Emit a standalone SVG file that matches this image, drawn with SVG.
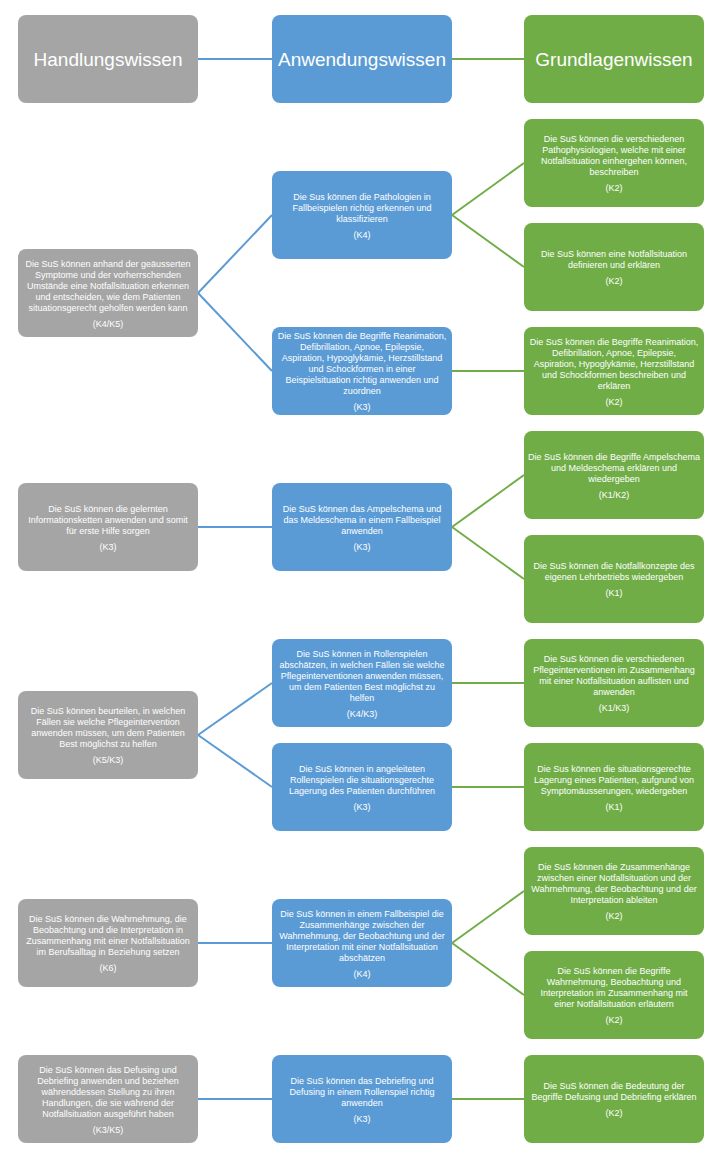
<svg xmlns="http://www.w3.org/2000/svg" width="719" height="1167" viewBox="0 0 719 1167">
<style>
.g{fill:#A5A5A5}
.b{fill:#5B9BD5}
.gr{fill:#70AD47}
rect{rx:8px;ry:8px}
text{font-family:"Liberation Sans",Arial,sans-serif;fill:#fff;text-anchor:middle}
.h{font-size:19px}
.t{font-size:9px}
.cb{stroke:#5B9BD5;stroke-width:2;fill:none}
.cg{stroke:#70AD47;stroke-width:2;fill:none}
</style>
<rect x="0" y="0" width="719" height="1167" fill="#fff" rx="0" ry="0" style="rx:0;ry:0"/>
<g id="connectors">
<line class="cb" x1="198" y1="59" x2="272" y2="59"/>
<line class="cg" x1="452" y1="59" x2="524" y2="59"/>
<line class="cb" x1="198" y1="293" x2="272" y2="215"/>
<line class="cb" x1="198" y1="293" x2="272" y2="371"/>
<line class="cg" x1="452" y1="215" x2="524" y2="163"/>
<line class="cg" x1="452" y1="215" x2="524" y2="267"/>
<line class="cg" x1="452" y1="371" x2="524" y2="371"/>
<line class="cb" x1="198" y1="527" x2="272" y2="527"/>
<line class="cg" x1="452" y1="527" x2="524" y2="475"/>
<line class="cg" x1="452" y1="527" x2="524" y2="579"/>
<line class="cb" x1="198" y1="735" x2="272" y2="683"/>
<line class="cb" x1="198" y1="735" x2="272" y2="787"/>
<line class="cg" x1="452" y1="683" x2="524" y2="683"/>
<line class="cg" x1="452" y1="787" x2="524" y2="787"/>
<line class="cb" x1="198" y1="943" x2="272" y2="943"/>
<line class="cg" x1="452" y1="943" x2="524" y2="891"/>
<line class="cg" x1="452" y1="943" x2="524" y2="995"/>
<line class="cb" x1="198" y1="1099" x2="272" y2="1099"/>
<line class="cg" x1="452" y1="1099" x2="524" y2="1099"/>
</g>
<g id="h-handlung"><rect class="g" x="18" y="15" width="180" height="88"/><text class="h" x="108" y="65.5">Handlungswissen</text></g>
<g id="h-anwendung"><rect class="b" x="272" y="15" width="180" height="88"/><text class="h" x="362" y="65.5">Anwendungswissen</text></g>
<g id="h-grundlagen"><rect class="gr" x="524" y="15" width="180" height="88"/><text class="h" x="614" y="65.5">Grundlagenwissen</text></g>

<g id="gray1"><rect class="g" x="18" y="249" width="180" height="88"/>
<text class="t" x="108" y="266.5">Die SuS können anhand der geäusserten</text>
<text class="t" x="108" y="277.5">Symptome und der vorherrschenden</text>
<text class="t" x="108" y="288.5">Umstände eine Notfallsituation erkennen</text>
<text class="t" x="108" y="299.5">und entscheiden, wie dem Patienten</text>
<text class="t" x="108" y="310.5">situationsgerecht geholfen werden kann</text>
<text class="t" x="108" y="326.5">(K4/K5)</text></g>

<g id="blue1"><rect class="b" x="272" y="171" width="180" height="88"/>
<text class="t" x="362" y="199.5">Die Sus können die Pathologien in</text>
<text class="t" x="362" y="210.5">Fallbeispielen richtig erkennen und</text>
<text class="t" x="362" y="221.5">klassifizieren</text>
<text class="t" x="362" y="237.5">(K4)</text></g>

<g id="blue2"><rect class="b" x="272" y="327" width="180" height="88"/>
<text class="t" x="362" y="339">Die SuS können die Begriffe Reanimation,</text>
<text class="t" x="362" y="350">Defibrillation, Apnoe, Epilepsie,</text>
<text class="t" x="362" y="361">Aspiration, Hypoglykämie, Herzstillstand</text>
<text class="t" x="362" y="372">und Schockformen in einer</text>
<text class="t" x="362" y="383">Beispielsituation richtig anwenden und</text>
<text class="t" x="362" y="394">zuordnen</text>
<text class="t" x="362" y="410">(K3)</text></g>

<g id="green1"><rect class="gr" x="524" y="119" width="180" height="88"/>
<text class="t" x="614" y="142">Die SuS können die verschiedenen</text>
<text class="t" x="614" y="153">Pathophysiologien, welche mit einer</text>
<text class="t" x="614" y="164">Notfallsituation einhergehen können,</text>
<text class="t" x="614" y="175">beschreiben</text>
<text class="t" x="614" y="191">(K2)</text></g>

<g id="green2"><rect class="gr" x="524" y="223" width="180" height="88"/>
<text class="t" x="614" y="257">Die SuS können eine Notfallsituation</text>
<text class="t" x="614" y="268">definieren und erklären</text>
<text class="t" x="614" y="284">(K2)</text></g>

<g id="green3"><rect class="gr" x="524" y="327" width="180" height="88"/>
<text class="t" x="614" y="344.5">Die SuS können die Begriffe Reanimation,</text>
<text class="t" x="614" y="355.5">Defibrillation, Apnoe, Epilepsie,</text>
<text class="t" x="614" y="366.5">Aspiration, Hypoglykämie, Herzstillstand</text>
<text class="t" x="614" y="377.5">und Schockformen beschreiben und</text>
<text class="t" x="614" y="388.5">erklären</text>
<text class="t" x="614" y="404.5">(K2)</text></g>

<g id="gray2"><rect class="g" x="18" y="483" width="180" height="88"/>
<text class="t" x="108" y="511.5">Die SuS können die gelernten</text>
<text class="t" x="108" y="522.5">Informationsketten anwenden und somit</text>
<text class="t" x="108" y="533.5">für erste Hilfe sorgen</text>
<text class="t" x="108" y="549.5">(K3)</text></g>

<g id="blue3"><rect class="b" x="272" y="483" width="180" height="88"/>
<text class="t" x="362" y="511.5">Die SuS können das Ampelschema und</text>
<text class="t" x="362" y="522.5">das Meldeschema in einem Fallbeispiel</text>
<text class="t" x="362" y="533.5">anwenden</text>
<text class="t" x="362" y="549.5">(K3)</text></g>

<g id="green4"><rect class="gr" x="524" y="431" width="180" height="88"/>
<text class="t" x="614" y="459.5">Die SuS können die Begriffe Ampelschema</text>
<text class="t" x="614" y="470.5">und Meldeschema erklären und</text>
<text class="t" x="614" y="481.5">wiedergeben</text>
<text class="t" x="614" y="497.5">(K1/K2)</text></g>

<g id="green5"><rect class="gr" x="524" y="535" width="180" height="88"/>
<text class="t" x="614" y="569">Die SuS können die Notfallkonzepte des</text>
<text class="t" x="614" y="580">eigenen Lehrbetriebs wiedergeben</text>
<text class="t" x="614" y="596">(K1)</text></g>

<g id="gray3"><rect class="g" x="18" y="691" width="180" height="88"/>
<text class="t" x="108" y="714">Die SuS können beurteilen, in welchen</text>
<text class="t" x="108" y="725">Fällen sie welche Pflegeintervention</text>
<text class="t" x="108" y="736">anwenden müssen, um dem Patienten</text>
<text class="t" x="108" y="747">Best möglichst zu helfen</text>
<text class="t" x="108" y="763">(K5/K3)</text></g>

<g id="blue4"><rect class="b" x="272" y="639" width="180" height="88"/>
<text class="t" x="362" y="656.5">Die SuS können in Rollenspielen</text>
<text class="t" x="362" y="667.5">abschätzen, in welchen Fällen sie welche</text>
<text class="t" x="362" y="678.5">Pflegeinterventionen anwenden müssen,</text>
<text class="t" x="362" y="689.5">um dem Patienten Best möglichst zu</text>
<text class="t" x="362" y="700.5">helfen</text>
<text class="t" x="362" y="716.5">(K4/K3)</text></g>

<g id="green6"><rect class="gr" x="524" y="639" width="180" height="88"/>
<text class="t" x="614" y="662">Die SuS können die verschiedenen</text>
<text class="t" x="614" y="673">Pflegeinterventionen im Zusammenhang</text>
<text class="t" x="614" y="684">mit einer Notfallsituation auflisten und</text>
<text class="t" x="614" y="695">anwenden</text>
<text class="t" x="614" y="711">(K1/K3)</text></g>

<g id="blue5"><rect class="b" x="272" y="743" width="180" height="88"/>
<text class="t" x="362" y="771.5">Die SuS können in angeleiteten</text>
<text class="t" x="362" y="782.5">Rollenspielen die situationsgerechte</text>
<text class="t" x="362" y="793.5">Lagerung des Patienten durchführen</text>
<text class="t" x="362" y="809.5">(K3)</text></g>

<g id="green7"><rect class="gr" x="524" y="743" width="180" height="88"/>
<text class="t" x="614" y="771.5">Die Sus können die situationsgerechte</text>
<text class="t" x="614" y="782.5">Lagerung eines Patienten, aufgrund von</text>
<text class="t" x="614" y="793.5">Symptomäusserungen, wiedergeben</text>
<text class="t" x="614" y="809.5">(K1)</text></g>

<g id="gray4"><rect class="g" x="18" y="899" width="180" height="88"/>
<text class="t" x="108" y="922">Die SuS können die Wahrnehmung, die</text>
<text class="t" x="108" y="933">Beobachtung und die Interpretation in</text>
<text class="t" x="108" y="944">Zusammenhang mit einer Notfallsituation</text>
<text class="t" x="108" y="955">im Berufsalltag in Beziehung setzen</text>
<text class="t" x="108" y="971">(K6)</text></g>

<g id="blue6"><rect class="b" x="272" y="899" width="180" height="88"/>
<text class="t" x="362" y="916.5">Die SuS können in einem Fallbeispiel die</text>
<text class="t" x="362" y="927.5">Zusammenhänge zwischen der</text>
<text class="t" x="362" y="938.5">Wahrnehmung, der Beobachtung und der</text>
<text class="t" x="362" y="949.5">Interpretation mit einer Notfallsituation</text>
<text class="t" x="362" y="960.5">abschätzen</text>
<text class="t" x="362" y="976.5">(K4)</text></g>

<g id="green8"><rect class="gr" x="524" y="847" width="180" height="88"/>
<text class="t" x="614" y="870">Die SuS können die Zusammenhänge</text>
<text class="t" x="614" y="881">zwischen einer Notfallsituation und der</text>
<text class="t" x="614" y="892">Wahrnehmung, der Beobachtung und der</text>
<text class="t" x="614" y="903">Interpretation ableiten</text>
<text class="t" x="614" y="919">(K2)</text></g>

<g id="green9"><rect class="gr" x="524" y="951" width="180" height="88"/>
<text class="t" x="614" y="974">Die SuS können die Begriffe</text>
<text class="t" x="614" y="985">Wahrnehmung, Beobachtung und</text>
<text class="t" x="614" y="996">Interpretation im Zusammenhang mit</text>
<text class="t" x="614" y="1007">einer Notfallsituation erläutern</text>
<text class="t" x="614" y="1023">(K2)</text></g>

<g id="gray5"><rect class="g" x="18" y="1055" width="180" height="88"/>
<text class="t" x="108" y="1072.5">Die SuS können das Defusing und</text>
<text class="t" x="108" y="1083.5">Debriefing anwenden und beziehen</text>
<text class="t" x="108" y="1094.5">währenddessen Stellung zu ihren</text>
<text class="t" x="108" y="1105.5">Handlungen, die sie während der</text>
<text class="t" x="108" y="1116.5">Notfallsituation ausgeführt haben</text>
<text class="t" x="108" y="1132.5">(K3/K5)</text></g>

<g id="blue7"><rect class="b" x="272" y="1055" width="180" height="88"/>
<text class="t" x="362" y="1083.5">Die SuS können das Debriefing und</text>
<text class="t" x="362" y="1094.5">Defusing in einem Rollenspiel richtig</text>
<text class="t" x="362" y="1105.5">anwenden</text>
<text class="t" x="362" y="1121.5">(K3)</text></g>

<g id="green10"><rect class="gr" x="524" y="1055" width="180" height="88"/>
<text class="t" x="614" y="1089">Die SuS können die Bedeutung der</text>
<text class="t" x="614" y="1100">Begriffe Defusing und Debriefing erklären</text>
<text class="t" x="614" y="1116">(K2)</text></g>
</svg>
